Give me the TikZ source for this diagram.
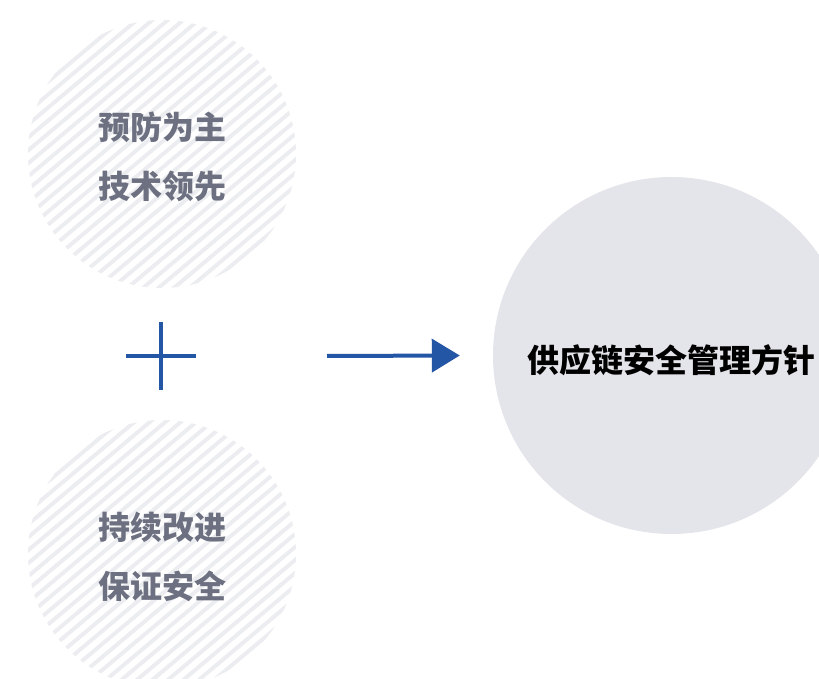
\documentclass[tikz,border=0pt]{standalone}
\usepackage{fontspec}
\newfontfamily\cjk{Noto Sans CJK SC}
\usetikzlibrary{arrows.meta}
\usetikzlibrary{positioning}
\definecolor{stripegray}{HTML}{ECEDF0}
\definecolor{textgray}{HTML}{6C7080}
\definecolor{goalgray}{HTML}{E4E5EA}
\definecolor{linkblue}{HTML}{2456A6}
\newcommand{\lowered}[2]{\raisebox{-#1}[\height][\depth]{#2}}
\tikzset{
  % diagonal hatch line inside a principle circle
  stripe/.style = {
    draw = stripegray,
    line width = 4pt
  },
  % striped circle holding two principles
  principle/.style = {
    circle,
    minimum size = 268pt,
    inner sep = 0,
    align = center,
    text = textgray,
    font = \cjk\bfseries\fontsize{32}{59}\selectfont,
    path picture = {
      \begin{scope}[shift={(path picture bounding box.center)}]
        \foreach \k in {-30,...,30}
          \draw[stripe] (-200pt,\k*13pt-168pt) -- (200pt,\k*13pt+168pt);
      \end{scope}
    }
  },
  % big grey circle
  goal/.style = {
    circle,
    fill = goalgray,
    minimum size = 357pt,
    inner sep = 0,
    text = black,
    font = \cjk\bfseries\fontsize{32}{36}\selectfont
  },
  % blue strokes
  link/.style = {
    draw = linkblue,
    line width = 4pt
  }
}
\begin{document}
\begin{tikzpicture}[x=1pt, y=1pt]
  \clip (0,0) rectangle (819,678);

  \node[principle] (prevent) at (162,524) {\lowered{3pt}{预防为主}\\\lowered{3pt}{技术领先}};
  \node[principle] (improve) at (162,124) {\lowered{3pt}{持续改进}\\\lowered{3pt}{保证安全}};
  \node[goal] (policy) at (671.5,322.5) {\lowered{5pt}{供应链安全管理方针}};

  % plus sign between the two circles
  \coordinate (plus) at (161,322);
  \draw[link] ([xshift=-35pt]plus) -- ([xshift=35pt]plus);
  \draw[link] ([yshift=-34pt]plus) -- ([yshift=34pt]plus);

  \coordinate (tail) at (327,322);
  \draw[link, -{Triangle[length=28pt, width=33pt]}] (tail) -- ([xshift=-33pt]policy.west);
\end{tikzpicture}
\end{document}
